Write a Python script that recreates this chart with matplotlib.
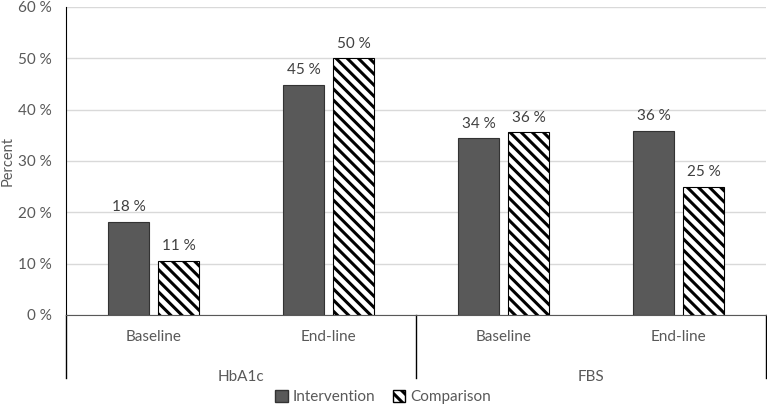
import numpy as np
import matplotlib
matplotlib.use("Agg")
import matplotlib.pyplot as plt
from matplotlib.patches import Patch

# chart data
groups = ["HbA1c", "FBS"]
periods = ["Baseline", "End-line"]
intervention = [18.1, 44.9, 34.4, 35.9]
comparison = [10.6, 50.0, 35.6, 25.0]
yticks = [0, 10, 20, 30, 40, 50, 60]

plt.rcParams['font.family'] = ['Lato', 'DejaVu Sans']
plt.rcParams['hatch.linewidth'] = 2.2
grey_txt = '#595959'
hatch = '\\\\\\'

fig = plt.figure(figsize=(7.67, 4.07), dpi=100)
ax = fig.add_axes([66/767, 92/407, 700/767, 308/407])

x = np.arange(len(intervention))
w = 0.229
off = 0.143
b1 = ax.bar(x - off, intervention, w, color='#595959', edgecolor='#333333', lw=0.8, zorder=3)
b2 = ax.bar(x + off, comparison, w, color='white', edgecolor='black', lw=0.8,
            hatch=hatch, zorder=3)

for bars, vals in [(b1, intervention), (b2, comparison)]:
    for r, v in zip(bars, vals):
        ax.text(r.get_x() + r.get_width()/2, v + 1.5, "%d %%" % round(v),
                ha='center', va='bottom', fontsize=11, color='#404040')

ax.set_xlim(-0.5, len(x) - 0.5)
ax.set_ylim(0, 60)
ax.set_yticks(yticks)
ax.set_yticklabels(["%d %%" % t for t in yticks], fontsize=11, color=grey_txt)
ax.tick_params(axis='y', length=0, pad=10)
ax.set_ylabel("Percent", fontsize=10.5, color=grey_txt, labelpad=3)
ax.grid(axis='y', color='#d9d9d9', lw=1, zorder=0)
ax.set_axisbelow(True)
for s in ['top', 'right']:
    ax.spines[s].set_visible(False)
ax.spines['left'].set_color('black')
ax.spines['bottom'].set_color('#595959')

# two level category axis
ax.set_xticks([])
tr = ax.get_xaxis_transform()
for i in x:
    ax.text(i, -0.07, periods[i % 2], transform=tr, ha='center', va='center',
            fontsize=11, color=grey_txt)
for g, name in enumerate(groups):
    ax.text(2*g + 0.5, -0.2, name, transform=tr, ha='center', va='center',
            fontsize=11, color=grey_txt)
for xv in [-0.5, 1.5, 3.5]:
    ax.plot([xv, xv], [0, -0.205], transform=tr, color='black', lw=1,
            clip_on=False)

handles = [Patch(facecolor='#595959', edgecolor='#333333', label='Intervention'),
           Patch(facecolor='white', edgecolor='black', hatch=hatch, label='Comparison')]
fig.legend(handles=handles, loc='center', bbox_to_anchor=(383/767, 1 - 397/407),
           ncol=2, frameon=False, fontsize=11, handlelength=0.8, handleheight=0.8,
           columnspacing=1.2, handletextpad=0.3, labelcolor=grey_txt)

fig.savefig("out.png", dpi=100)
